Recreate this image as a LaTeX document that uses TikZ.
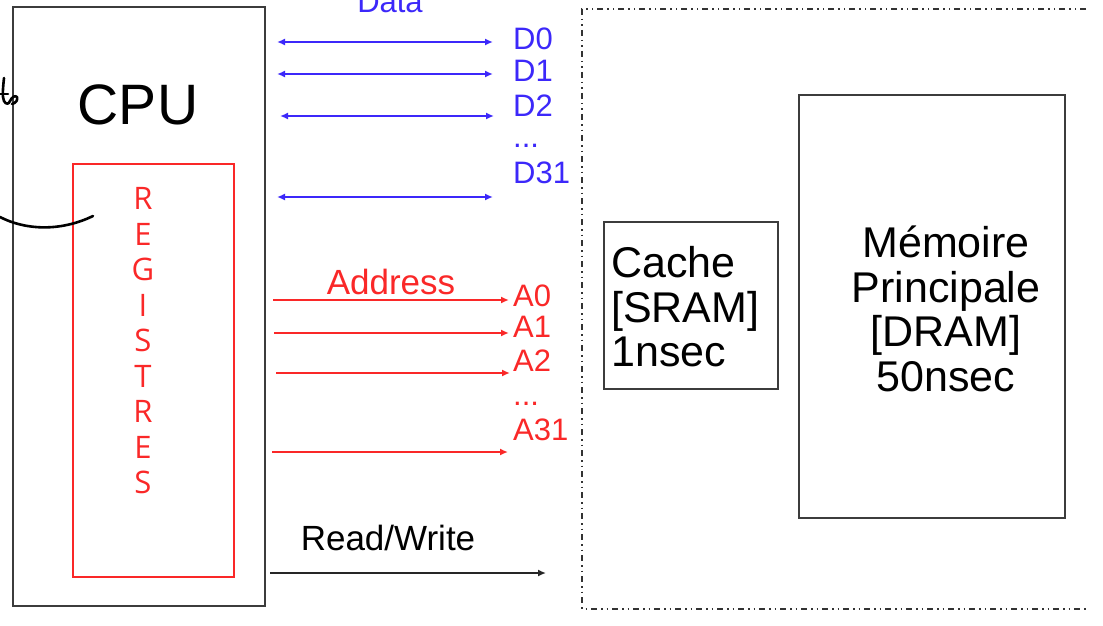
\documentclass[tikz,border=0pt]{standalone}
\usepackage{fontspec}
\setmainfont{Liberation Sans}
\newfontfamily\regfont{Open Sans}
\usetikzlibrary{arrows.meta}
\definecolor{databl}{RGB}{60,40,250}
\definecolor{addrred}{RGB}{250,40,40}
\definecolor{boxgray}{RGB}{60,60,60}
\begin{document}
\begin{tikzpicture}[x=1pt,y=-1pt,
  txt/.style={inner sep=0pt,anchor=base},
  lbl/.style={inner sep=0pt,anchor=base west},
  dtxt/.style={txt,text=databl,font=\fontsize{31}{31}\selectfont},
  dlbl/.style={lbl,text=databl,font=\fontsize{31}{31}\selectfont},
  atxt/.style={txt,text=addrred,font=\fontsize{35}{35}\selectfont},
  albl/.style={lbl,text=addrred,font=\fontsize{31}{31}\selectfont},
  reg/.style={txt,text=addrred,font=\regfont\fontsize{31}{31}\selectfont},
  big/.style={txt,font=\fontsize{43}{43}\selectfont},
  bigl/.style={lbl,font=\fontsize{43}{43}\selectfont},
  darr/.style={databl,line width=1.6pt,{Latex[length=8pt,width=7pt]}-{Latex[length=8pt,width=7pt]}},
  aarr/.style={addrred,line width=1.6pt,-{Latex[length=8pt,width=7pt]}},
  rwarr/.style={black!85,line width=1.6pt,-{Latex[length=8pt,width=7pt]}},
  hand/.style={black,line width=2.6pt,line cap=round,line join=round}
]
\useasboundingbox (0,0) rectangle (1103,626);
\fill[white] (0,0) rectangle (1103,626);

% CPU box
\node[draw=boxgray,line width=2pt,minimum width=252pt,minimum height=599pt,inner sep=0pt] (cpu) at (139,306.5) {};
\node[txt,font=\fontsize{57}{57}\selectfont] (cputxt) at (138,124) {CPU};
% registers
\node[draw=addrred,line width=1.3pt,minimum width=161pt,minimum height=413pt,inner sep=0pt] (regs) at (153.5,370.5) {};
\node[reg] (r1) at (143,209.5) {R};
\node[reg] (r2) at (143,245) {E};
\node[reg] (r3) at (143,280.5) {G};
\node[reg] (r4) at (143,316) {I};
\node[reg] (r5) at (143,351.5) {S};
\node[reg] (r6) at (143,387) {T};
\node[reg] (r7) at (143,422.5) {R};
\node[reg] (r8) at (143,458) {E};
\node[reg] (r9) at (143,493.5) {S};

% handwriting
\draw[hand] (4,78) .. controls (3,88) and (2,97) .. (4,101) .. controls (6,105) and (9,104) .. (10,101);
\draw[hand] (0,94) -- (8,94);
\draw[hand] (10,101) .. controls (12,97) and (15,95) .. (17,97) .. controls (18,100) and (16,103) .. (12,104);
\draw[hand] (0,217) .. controls (25,230) and (60,232) .. (93,216);

% Data bus
\node[dtxt] (datatxt) at (390,13) {Data};
\coordinate (d0l) at (277,42);  \coordinate (d0r) at (493,42);
\coordinate (d1l) at (277,74);  \coordinate (d1r) at (493,74);
\coordinate (d2l) at (280,116); \coordinate (d2r) at (494,116);
\coordinate (d3l) at (277,197); \coordinate (d3r) at (493,197);
\draw[darr] (d0l) -- (d0r);
\draw[darr] (d1l) -- (d1r);
\draw[darr] (d2l) -- (d2r);
\draw[darr] (d3l) -- (d3r);
\node[dlbl] (D0) at (513,49) {D0};
\node[dlbl] (D1) at (513,81.5) {D1};
\node[dlbl] (D2) at (513,116.5) {D2};
\node[dlbl] (Ddots) at (513,147) {...};
\node[dlbl] (D31) at (513,183.5) {D31};

% Address bus
\node[atxt] (addrtxt) at (391,294.5) {Address};
\coordinate (a0l) at (273,300); \coordinate (a0r) at (509,300);
\coordinate (a1l) at (274,333); \coordinate (a1r) at (509,333);
\coordinate (a2l) at (276,373); \coordinate (a2r) at (510,373);
\coordinate (a3l) at (272,452); \coordinate (a3r) at (508,452);
\draw[aarr] (a0l) -- (a0r);
\draw[aarr] (a1l) -- (a1r);
\draw[aarr] (a2l) -- (a2r);
\draw[aarr] (a3l) -- (a3r);
\node[albl] (A0) at (513,306.5) {A0};
\node[albl] (A1) at (513,337.5) {A1};
\node[albl] (A2) at (513,371.5) {A2};
\node[albl] (Adots) at (513,405) {...};
\node[albl] (A31) at (513,440.5) {A31};

% Read/Write
\node[txt,font=\fontsize{35}{35}\selectfont] (rwtxt) at (388,550) {Read/Write};
\coordinate (rwl) at (270,573); \coordinate (rwr) at (546,573);
\draw[rwarr] (rwl) -- (rwr);

% memory region (dash-dot-dot)
\draw[black!80,line width=1.3pt,dash pattern=on 6pt off 4pt on 1.5pt off 4pt on 1.5pt off 4pt]
  (1086,9) -- (582,9) -- (582,609) -- (1086,609);

% Cache
\node[draw=boxgray,line width=1.6pt,minimum width=174pt,minimum height=167pt,inner sep=0pt] (cache) at (691,305.5) {};
\node[bigl] (c1) at (611,277) {Cache};
\node[bigl] (c2) at (611,322) {[SRAM]};
\node[bigl] (c3) at (611,366) {1nsec};

% Main memory
\node[draw=boxgray,line width=1.6pt,minimum width=266pt,minimum height=423pt,inner sep=0pt] (mem) at (932,306.5) {};
\node[big] (m1) at (946,257) {Mémoire};
\node[big] (m2) at (946,302) {Principale};
\node[big] (m3) at (946,346) {[DRAM]};
\node[big] (m4) at (946,391) {50nsec};
\end{tikzpicture}
\end{document}
